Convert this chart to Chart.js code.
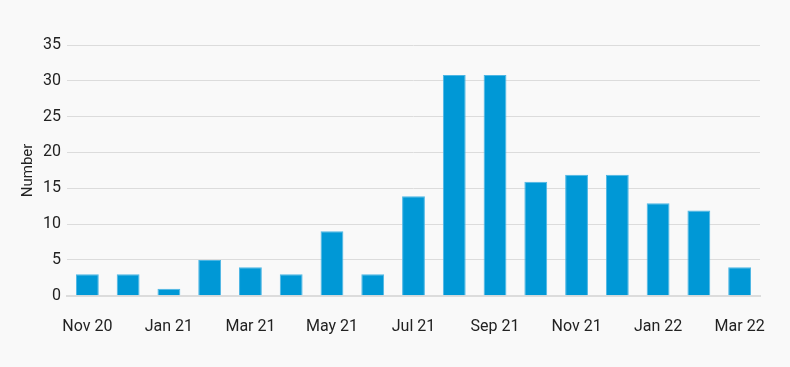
<!DOCTYPE html>
<html><head><meta charset="utf-8">
<script src="https://cdn.jsdelivr.net/npm/chart.js@4/dist/chart.umd.min.js"></script>
<style>
html,body{margin:0;padding:0;background:#f9f9f9;}
#wrap{width:790px;height:367px;}
</style></head><body>
<div id="wrap"><canvas id="c"></canvas></div>
<script>
const categories = ["Nov 20","Dec 20","Jan 21","Feb 21","Mar 21","Apr 21","May 21","Jun 21","Jul 21","Aug 21","Sep 21","Oct 21","Nov 21","Dec 21","Jan 22","Feb 22","Mar 22"];
const values = [3,3,1,5,4,3,9,3,13.9,30.8,30.8,15.9,16.9,16.9,12.9,11.9,4];
const yTicks = [0,5,10,15,20,25,30,35];

Chart.defaults.font.family = "Roboto, 'Liberation Sans', sans-serif";
Chart.defaults.color = "#222";
new Chart(document.getElementById('c'), {
  type: 'bar',
  data: { labels: categories, datasets: [{ data: values, backgroundColor: '#0098d6', borderColor: '#4cb6e4', borderWidth: {top:1,left:1,right:1,bottom:0}, barPercentage: 0.56, categoryPercentage: 1 }] },
  options: {
    responsive: true, maintainAspectRatio: false, animation: false,
    layout: { padding: { top: 45, right: 30, left: 19, bottom: 16 } },
    plugins: { legend: { display: false }, tooltip: { enabled: false } },
    scales: {
      x: {
        grid: { display: false },
        border: { display: true, color: '#dcdcdc', width: 2 },
        ticks: { autoSkip: false, maxRotation: 0, font: { size: 16 }, color: '#222', padding: 14,
          callback: function(v, i) { return i % 2 === 0 ? categories[i] : ''; } }
      },
      y: {
        min: 0, max: 35,
        afterBuildTicks: (axis) => { axis.ticks = yTicks.map(v => ({ value: v })); },
        grid: { color: '#dcdcdc', lineWidth: 1, drawTicks: false },
        border: { display: false },
        ticks: { font: { size: 16 }, color: '#222', padding: 6 },
        title: { display: true, text: 'Number', font: { size: 15 }, color: '#222', padding: { top: 0, bottom: 0 } }
      }
    }
  }
});
</script>
</body></html>
